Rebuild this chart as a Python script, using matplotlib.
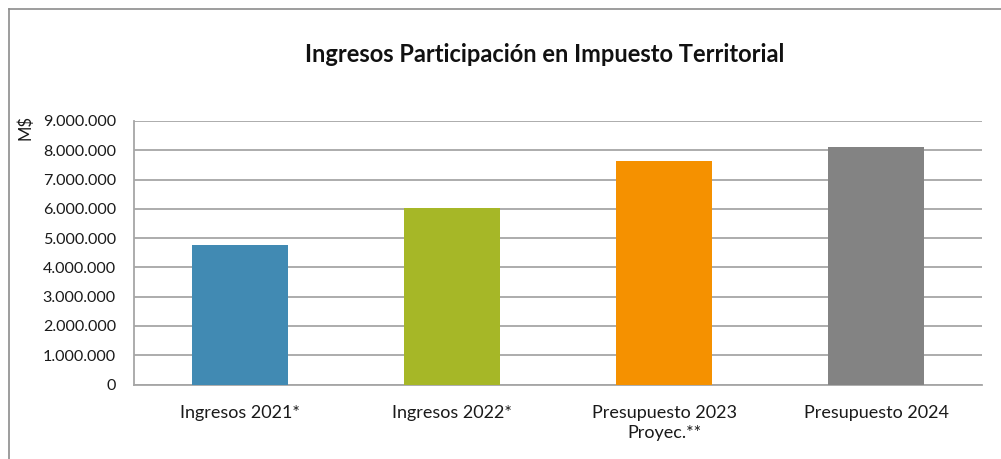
import matplotlib.pyplot as plt
from matplotlib.lines import Line2D
from matplotlib.ticker import FuncFormatter

categories = ['Ingresos 2021*', 'Ingresos 2022*', 'Presupuesto 2023\nProyec.**', 'Presupuesto 2024']
values = [4760000, 6030000, 7630000, 8120000]
colors = ['#418AB3', '#A6B727', '#F59100', '#838383']

plt.rcParams['font.family'] = ['Lato', 'DejaVu Sans']

fig = plt.figure(figsize=(10.01, 4.59), dpi=100)
ax = fig.add_axes([134 / 1001, 1 - 384.5 / 459, (982 - 134) / 1001, (384.5 - 121) / 459])

x = range(len(categories))
ax.bar(x, values, width=0.457, color=colors, zorder=3)

ax.set_xlim(-0.5, len(categories) - 0.5)
ax.set_ylim(0, 9000000)
ax.set_yticks(range(0, 9000001, 1000000))
ax.yaxis.set_major_formatter(FuncFormatter(lambda v, p: f'{int(v):,}'.replace(',', '.')))
ax.set_xticks(list(x))
ax.set_xticklabels(categories, fontsize=13, color='#1a1a1a', linespacing=1.25)
ax.tick_params(axis='y', labelsize=11.6, length=0, pad=13, colors='#1a1a1a')
ax.tick_params(axis='x', length=0, pad=15)

ax.grid(axis='y', color='#A6A6A6', linewidth=1.3, zorder=0)
for s in ['top', 'right']:
    ax.spines[s].set_visible(False)
ax.spines['left'].set_color('#A6A6A6')
ax.spines['bottom'].set_color('#A6A6A6')
ax.spines['left'].set_linewidth(1.3)
ax.spines['bottom'].set_linewidth(1.3)

fig.text(545 / 1001, 1 - 55 / 459, 'Ingresos Participación en Impuesto Territorial',
         ha='center', va='center', fontsize=17, fontweight='bold', color='#111111')
fig.text(25 / 1001, 1 - 127 / 459, 'M$', rotation=90, ha='center', va='center',
         fontsize=12, color='#1a1a1a')

# chart border (only left and top visible in the crop)
fig.add_artist(Line2D([8.5 / 1001, 8.5 / 1001], [0, 1 - 9 / 459], transform=fig.transFigure,
                      color='#8C8C8C', linewidth=1.2))
fig.add_artist(Line2D([8.5 / 1001, 1], [1 - 9 / 459, 1 - 9 / 459], transform=fig.transFigure,
                      color='#8C8C8C', linewidth=1.2))

fig.savefig('out.png', dpi=100)
